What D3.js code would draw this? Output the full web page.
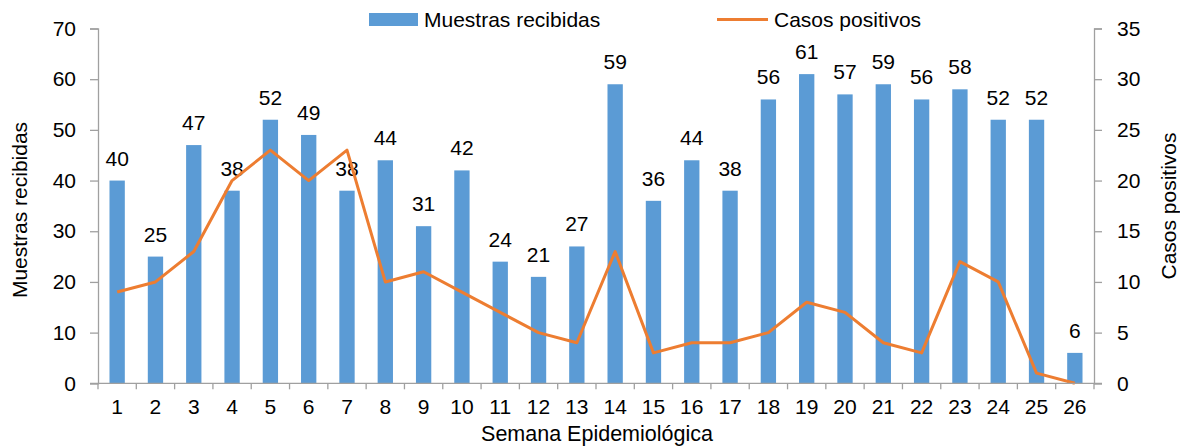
<!DOCTYPE html>
<html>
<head>
<meta charset="utf-8">
<script src="https://cdn.jsdelivr.net/npm/d3@7"></script>
<style>
  body { margin: 0; background: #fff; }
  svg { font-family: "Liberation Sans", Arial, sans-serif; }
</style>
</head>
<body>
<svg id="chart" width="1180" height="447"></svg>
<script>
// weeks, samples received, positive cases
const weeks = d3.range(1, 27);
const muestras = [40, 25, 47, 38, 52, 49, 38, 44, 31, 42, 24, 21, 27, 59, 36, 44, 38, 56, 61, 57, 59, 56, 58, 52, 52, 6];
const casos = [9, 10, 13, 20, 23, 20, 23, 10, 11, 9, 7, 5, 4, 13, 3, 4, 4, 5, 8, 7, 4, 3, 12, 10, 1, 0];
const leftTicks = [0, 10, 20, 30, 40, 50, 60, 70];
const rightTicks = [0, 5, 10, 15, 20, 25, 30, 35];

const blue = '#5b9bd5', orange = '#ed7d31', axisColor = '#a0a0a0';
const fs = 21;
const svg = d3.select('#chart');
const m = { left: 98, right: 1094, top: 28.5, bottom: 383.3 };

const x = d3.scaleBand().domain(weeks).range([m.left, m.right]).paddingInner(0.6).paddingOuter(0.3);
const xc = d => x(d) + x.bandwidth() / 2;
const yL = d3.scaleLinear().domain([0, 70]).range([m.bottom, m.top]);
const yR = d3.scaleLinear().domain([0, 35]).range([m.bottom, m.top]);

// Bars
svg.append('g')
  .selectAll('rect')
  .data(weeks)
  .join('rect')
  .attr('x', d => x(d))
  .attr('width', x.bandwidth())
  .attr('y', (d, i) => yL(muestras[i]))
  .attr('height', (d, i) => yL(0) - yL(muestras[i]))
  .attr('fill', blue);

// Bar labels
svg.append('g')
  .attr('font-size', fs)
  .attr('text-anchor', 'middle')
  .selectAll('text')
  .data(weeks)
  .join('text')
  .attr('x', xc)
  .attr('y', (d, i) => yL(muestras[i]) - 15)
  .text((d, i) => muestras[i]);

// Line
svg.append('path')
  .datum(weeks)
  .attr('fill', 'none')
  .attr('stroke', orange)
  .attr('stroke-width', 3)
  .attr('stroke-linejoin', 'round')
  .attr('d', d3.line().x(xc).y((d, i) => yR(casos[i])));

// Axes
const styleAxis = g => {
  g.select('.domain').attr('stroke', axisColor).attr('stroke-width', 1.3);
  g.selectAll('.tick line').attr('stroke', axisColor).attr('stroke-width', 1.3);
  g.selectAll('.tick text').attr('font-size', fs).attr('fill', '#000').attr('font-family', '"Liberation Sans", Arial, sans-serif');
};

svg.append('g')
  .attr('transform', `translate(${m.left},0)`)
  .call(d3.axisLeft(yL).tickValues(leftTicks).tickSizeInner(8).tickSizeOuter(8).tickPadding(14))
  .call(styleAxis);

svg.append('g')
  .attr('transform', `translate(${m.right},0)`)
  .call(d3.axisRight(yR).tickValues(rightTicks).tickSizeInner(8).tickSizeOuter(8).tickPadding(15))
  .call(styleAxis);

// x axis with ticks between categories
const xg = svg.append('g').attr('transform', `translate(0,${m.bottom})`);
xg.append('line')
  .attr('x1', m.left - 8).attr('x2', m.right + 8)
  .attr('stroke', axisColor).attr('stroke-width', 1.3);
xg.selectAll('line.tk')
  .data(d3.range(weeks.length + 1))
  .join('line')
  .attr('class', 'tk')
  .attr('x1', i => m.left + i * (m.right - m.left) / weeks.length)
  .attr('x2', i => m.left + i * (m.right - m.left) / weeks.length)
  .attr('y1', 0).attr('y2', 6)
  .attr('stroke', axisColor).attr('stroke-width', 1.3);
xg.selectAll('text')
  .data(weeks)
  .join('text')
  .attr('x', xc)
  .attr('y', 31)
  .attr('text-anchor', 'middle')
  .attr('font-size', fs)
  .text(d => d);

// Axis titles
svg.append('text')
  .attr('x', 597).attr('y', 441)
  .attr('text-anchor', 'middle').attr('font-size', 21.5)
  .text('Semana Epidemiológica');

svg.append('text')
  .attr('transform', 'translate(27,210) rotate(-90)')
  .attr('text-anchor', 'middle').attr('font-size', fs)
  .text('Muestras recibidas');

svg.append('text')
  .attr('transform', 'translate(1176,206) rotate(-90)')
  .attr('text-anchor', 'middle').attr('font-size', fs)
  .text('Casos positivos');

// Legend
const lg = svg.append('g').attr('font-size', fs);
lg.append('rect').attr('x', 369).attr('y', 13).attr('width', 49).attr('height', 13).attr('fill', blue);
lg.append('text').attr('x', 424).attr('y', 27.3).text('Muestras recibidas');
lg.append('line').attr('x1', 717).attr('x2', 768).attr('y1', 19.5).attr('y2', 19.5)
  .attr('stroke', orange).attr('stroke-width', 3);
lg.append('text').attr('x', 774).attr('y', 27.3).text('Casos positivos');
</script>
</body>
</html>
